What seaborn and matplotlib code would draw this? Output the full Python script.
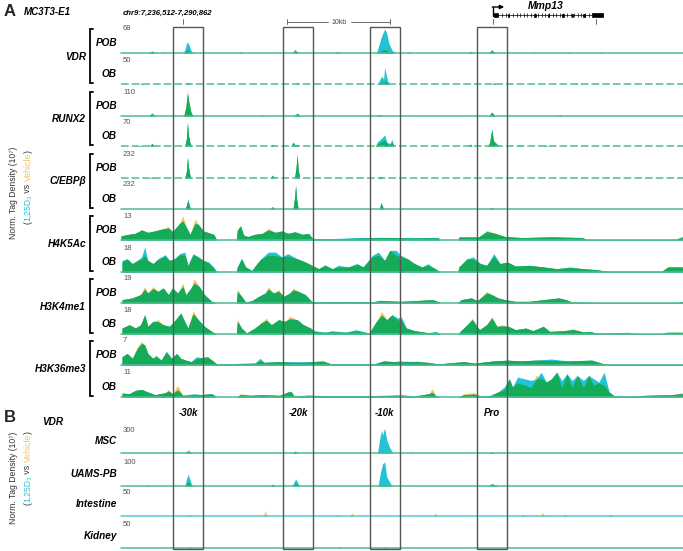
import numpy as np
import matplotlib
matplotlib.use("Agg")
import matplotlib.pyplot as plt
from matplotlib.patches import Rectangle
import seaborn as sns

# ---------------- data: (kb from left edge, 1,25D3, vehicle) ----------------
VDR_POB = [(0.0, 0, 0), (2.7, 0, 0), (3.0, 5, 5), (3.3, 0, 0), (4.0, 0, 0), (4.1, 2.5, 1), (4.2, 0, 0),
           (6.0, 0, 0), (6.2, 8, 4), (6.4, 29, 8), (6.6, 22, 6), (6.8, 6, 2), (7.0, 0, 0),
           (11.4, 0, 0), (11.6, 3, 1), (11.8, 0, 0), (16.6, 0, 0), (16.9, 10, 4), (17.2, 0, 0),
           (20.8, 0, 0), (21.0, 4, 2), (21.2, 0, 0), (24.8, 0, 0), (25.1, 26, 3), (25.3, 44, 6),
           (25.6, 63, 9), (25.8, 52, 7), (26.0, 26, 4), (26.3, 8, 2), (26.6, 0, 0),
           (27.8, 0, 0), (28.0, 3, 1), (28.2, 0, 0), (33.7, 0, 0), (33.9, 4, 4), (34.1, 0, 0),
           (35.7, 0, 0), (36.0, 8, 8), (36.3, 0, 0), (39.8, 0, 0), (40.0, 1, 3), (40.2, 0, 0),
           (43.3, 0, 0), (43.5, 1, 3), (43.7, 0, 0), (46.3, 0, 0), (46.5, 1, 2.5), (46.7, 0, 0),
           (54.5, 0, 0)]
VDR_OB = [(0.0, 0, 0), (1.8, 0, 0), (2.0, 2, 1), (2.2, 0, 0), (6.3, 0, 0), (6.5, 4, 1.5), (6.7, 0, 0),
          (16.9, 0, 0), (17.1, 3, 1), (17.3, 0, 0), (24.9, 0, 0), (25.2, 11, 3), (25.3, 15, 5),
          (25.5, 9.6, 3), (25.6, 32, 6), (25.8, 13, 3), (25.9, 5.8, 2), (26.1, 0, 0),
          (36.0, 0, 0), (36.2, 2, 2), (36.4, 0, 0), (44.0, 0, 0), (44.2, 2, 1), (44.4, 0, 0), (54.5, 0, 0)]
RUNX2_POB = [(0.0, 0, 0), (2.7, 0, 0), (3.0, 12, 13), (3.3, 0, 0), (6.1, 0, 0), (6.3, 38, 40),
             (6.45, 95, 110), (6.6, 55, 58), (6.8, 14, 15), (7.0, 0, 0), (13.5, 0, 0), (13.7, 1, 4),
             (13.9, 0, 0), (16.8, 0, 0), (17.1, 13, 11), (17.4, 0, 0), (24.9, 0, 0), (25.1, 6, 4),
             (25.3, 0, 0), (35.7, 0, 0), (36.0, 17, 16), (36.3, 0, 0), (42.4, 0, 0), (42.6, 3, 4),
             (42.8, 0, 0), (54.5, 0, 0)]
RUNX2_OB = [(0.0, 0, 0), (1.7, 0, 0), (1.9, 2, 2), (2.1, 0, 0), (2.8, 0, 0), (3.0, 7, 7), (3.2, 0, 0),
            (6.2, 0, 0), (6.35, 20, 19), (6.45, 65, 62), (6.55, 30, 28), (6.7, 8, 7), (6.9, 0, 0),
            (14.5, 0, 0), (14.7, 5, 2), (14.9, 0, 0), (16.5, 0, 0), (16.7, 11, 9), (16.9, 3, 3),
            (17.1, 5, 4), (17.3, 0, 0), (24.7, 0, 0), (24.9, 11, 6), (25.3, 21, 12), (25.6, 30, 16),
            (25.8, 11, 6), (26.1, 6, 4), (26.3, 18, 10), (26.5, 0, 0), (33.7, 0, 0), (33.9, 5, 5),
            (34.1, 0, 0), (35.6, 0, 0), (35.8, 10, 10), (36.0, 46, 45), (36.15, 15, 14), (36.4, 8, 7),
            (36.7, 0, 0), (38.5, 0, 0), (38.7, 3, 2), (38.9, 0, 0), (41.0, 0, 0), (41.2, 3, 2),
            (41.4, 0, 0), (54.5, 0, 0)]
CEBPB_POB = [(0.0, 0, 0), (2.8, 0, 0), (3.0, 8, 9), (3.2, 0, 0), (6.2, 0, 0), (6.35, 60, 58),
             (6.45, 187, 180), (6.55, 100, 95), (6.7, 20, 18), (6.85, 0, 0), (14.5, 0, 0),
             (14.7, 27, 25), (14.9, 0, 0), (16.85, 0, 0), (17.0, 95, 100), (17.1, 205, 222),
             (17.2, 75, 80), (17.35, 0, 0), (25.0, 0, 0), (25.2, 18, 15), (25.4, 0, 0), (54.5, 0, 0)]
CEBPB_OB = [(0.0, 0, 0), (6.25, 0, 0), (6.4, 50, 48), (6.5, 89, 85), (6.6, 40, 38), (6.75, 0, 0),
            (14.5, 0, 0), (14.7, 22, 20), (14.9, 0, 0), (16.7, 0, 0), (16.85, 100, 98),
            (16.95, 214, 210), (17.05, 90, 88), (17.2, 0, 0), (25.1, 0, 0), (25.25, 62, 55),
            (25.4, 20, 18), (25.55, 0, 0), (35.8, 0, 0), (36.0, 13, 12), (36.2, 0, 0), (54.5, 0, 0)]
H4K5AC_POB = [(0.0, 2.0, 2.2), (0.7, 2.8, 2.8), (1.4, 3.3, 3.5), (2.0, 5.0, 5.2), (2.6, 3.8, 3.8),
              (3.3, 4.5, 4.8), (4.0, 5.5, 5.5), (4.6, 6.0, 6.7), (5.0, 4.2, 4.2), (5.7, 8.3, 8.5),
              (6.0, 9.5, 12.0), (6.4, 5.8, 5.8), (6.7, 2.8, 3.0), (7.2, 8.3, 10.5), (7.5, 7.8, 7.8),
              (8.0, 4.5, 4.5), (8.4, 3.8, 4.0), (9.0, 2.8, 2.8), (9.3, 0, 0), (11.2, 0, 0),
              (11.3, 5.0, 5.0), (11.6, 7.2, 7.0), (11.9, 2.5, 2.5), (12.3, 1.7, 1.7), (13.0, 2.8, 3.0),
              (13.7, 3.3, 3.3), (14.3, 5.0, 5.8), (15.0, 3.8, 3.8), (15.6, 4.5, 4.5), (16.2, 3.3, 3.5),
              (16.9, 4.2, 4.0), (17.6, 2.8, 2.8), (18.2, 3.3, 3.3), (18.6, 0.8, 0.8), (20.0, 0.6, 0.5),
              (23.4, 1.3, 1.0), (26.3, 1.3, 1.2), (28.0, 1.2, 1.0), (30.8, 1.2, 1.2), (31.0, 0, 0),
              (32.7, 0, 0), (32.8, 1.5, 1.5), (34.7, 1.5, 1.5), (35.0, 2.5, 2.5), (35.5, 4.2, 4.8),
              (36.3, 3.3, 3.5), (37.3, 1.7, 1.7), (39.0, 1.2, 1.2), (41.8, 1.7, 1.5), (44.8, 1.2, 1.2),
              (45.2, 0.3, 0.3), (53.8, 0.3, 0.3), (54.5, 1.5, 1.8)]
H4K5AC_OB = [(0.1, 8, 7), (0.6, 9.2, 9.0), (1.1, 5.8, 5.8), (1.6, 8, 8), (2.0, 10.4, 9), (2.3, 17.3, 11.5),
             (2.6, 8, 8), (3.1, 5.8, 5.8), (3.6, 9.2, 8.8), (4.3, 12, 11), (4.7, 8, 8), (5.2, 9.2, 9.2),
             (5.7, 12.7, 12), (6.2, 13.8, 11.5), (6.5, 4.6, 4.6), (7.0, 12.7, 12), (7.5, 10.4, 10.4),
             (8.0, 8, 8), (8.5, 6.9, 6.5), (9.0, 3.5, 2.5), (9.3, 0, 0), (11.2, 0, 0), (11.3, 3.5, 3.5),
             (11.7, 9.2, 9.5), (12.1, 3.5, 3.5), (12.7, 1.0, 1.0), (13.2, 5.8, 5.8), (13.6, 9.2, 9.0),
             (14.3, 13.8, 11.5), (15.0, 13.8, 11.5), (15.6, 10.4, 10.4), (16.2, 12.7, 11),
             (17.1, 9.2, 9.2), (17.9, 6.9, 6.9), (18.5, 4.6, 5.2), (19.2, 2.3, 2.3), (19.8, 5, 4.5),
             (20.5, 2.3, 2.3), (21.1, 4.6, 3.5), (22.1, 3.5, 3.5), (22.9, 5.8, 5.5), (23.5, 3.5, 3.5),
             (24.4, 11.5, 10.5), (25.0, 13.8, 11.5), (25.6, 8, 8), (26.1, 15, 15), (26.7, 15, 11.5),
             (27.2, 11.5, 10.5), (27.8, 9.2, 9.2), (28.5, 5.8, 5.8), (29.2, 3.5, 3.5), (29.8, 5.8, 4.5),
             (30.5, 2.3, 2.3), (31.0, 0, 0), (32.7, 0, 0), (32.8, 3.5, 3.5), (33.6, 9.2, 9.0),
             (34.2, 10.4, 9), (34.9, 5.8, 5.8), (35.5, 4.6, 4.6), (36.2, 12.7, 11), (36.8, 5.8, 5.8),
             (37.5, 6.9, 6.9), (38.3, 4.1, 4.1), (39.6, 4.6, 4.6), (41.0, 3.5, 3.5), (42.3, 2.3, 2.3),
             (43.6, 3.5, 3.0), (44.9, 2.3, 2.3), (46.2, 1.6, 1.6), (47.2, 0.5, 0.5), (52.5, 0.5, 0.5),
             (53.1, 3.5, 3.5), (54.5, 3.5, 3.5)]
H3K4ME1_POB = [(0.1, 2.4, 2.4), (1.1, 3.7, 3.7), (1.9, 6.1, 6.1), (2.3, 10, 12), (2.6, 7.3, 7.3),
               (3.1, 10.5, 12), (3.6, 8.5, 8.5), (4.1, 11, 11), (4.6, 6.1, 6.1), (5.0, 11, 11),
               (5.5, 7.3, 7.3), (6.0, 12, 14.6), (6.3, 6.1, 6.1), (6.8, 11, 11), (7.1, 14.6, 17.8),
               (7.6, 12, 12), (8.1, 6.1, 6.1), (8.8, 1.2, 1.2), (9.1, 0.5, 0.5), (9.3, 0, 0),
               (11.2, 0, 0), (11.3, 8.5, 10), (11.7, 4.9, 4.9), (12.1, 0.7, 0.7), (12.7, 1.7, 1.7),
               (13.4, 4.9, 4.9), (14.0, 7.3, 7.3), (14.3, 10, 12), (14.8, 7.3, 7.3), (15.3, 8.5, 9.7),
               (15.8, 4.9, 4.9), (16.4, 7.3, 7.3), (16.7, 9.5, 11), (17.2, 8.5, 8.5), (17.9, 6.1, 6.1),
               (18.5, 1.2, 1.2), (19.5, 0.7, 0.7), (22.0, 1.0, 1.2), (24.3, 0.7, 0.7), (25.2, 1.9, 1.9),
               (27.1, 1.2, 1.2), (30.3, 2.4, 2.4), (30.8, 1.0, 1.0), (31.0, 0, 0), (32.7, 0, 0),
               (33.0, 2.4, 2.4), (34.0, 3.7, 3.7), (34.6, 1.7, 1.7), (35.5, 7.3, 8.5), (36.0, 6.1, 6.1),
               (36.6, 3.7, 3.7), (37.3, 2.4, 2.4), (38.3, 1.2, 1.2), (39.6, 1.2, 1.2), (42.5, 3.7, 3.7),
               (43.2, 2.4, 2.4), (43.8, 0.7, 0.7), (46.8, 0.3, 0.3), (54.0, 0.3, 0.3), (54.5, 1.0, 1.0)]
H3K4ME1_OB = [(0.1, 4.1, 4.1), (0.8, 6.4, 6.4), (1.4, 4.1, 4.1), (1.9, 6.4, 6.4), (2.3, 13.3, 13.3),
              (2.6, 5.3, 5.3), (3.1, 8.7, 8.7), (3.6, 8.5, 9.9), (4.1, 6.4, 6.4), (4.7, 5.3, 5.3),
              (5.3, 9.9, 9.9), (5.8, 14.5, 14.5), (6.1, 9.9, 9.9), (6.5, 4.1, 4.1), (7.0, 14, 16.1),
              (7.5, 9.9, 9.9), (8.1, 5.3, 5.3), (8.8, 1.8, 1.8), (9.1, 0.5, 0.5), (9.3, 0, 0),
              (11.2, 0, 0), (11.3, 8.7, 10.4), (11.7, 4.1, 4.1), (12.2, 0.7, 0.7), (13.0, 4.1, 4.1),
              (13.6, 7.6, 7.6), (14.1, 9.5, 11), (14.6, 6.4, 6.4), (15.3, 9.9, 9.9), (15.9, 8.7, 8.7),
              (16.4, 10.5, 12.2), (17.1, 9.9, 9.9), (17.7, 6.4, 6.4), (18.4, 4.1, 4.1), (18.8, 2.3, 1.5),
              (19.8, 1.2, 1.2), (20.5, 2.3, 1.5), (21.8, 1.2, 1.2), (22.8, 3.0, 2.0), (24.1, 0.7, 0.7),
              (24.7, 7.6, 7.6), (25.3, 13, 15.6), (25.8, 9.9, 9.9), (26.3, 13.3, 13.3), (26.9, 11, 9.5),
              (27.2, 12, 9.9), (27.7, 4.1, 4.1), (28.5, 2.3, 2.3), (29.8, 0.9, 0.9), (30.6, 1.8, 1.2),
              (31.0, 0, 0), (32.7, 0, 0), (33.0, 2.3, 2.3), (33.6, 6.4, 6.4), (34.1, 9.9, 11),
              (34.8, 3.0, 3.0), (35.5, 6.4, 6.4), (36.0, 11, 12), (36.5, 5.3, 5.3), (37.0, 5.5, 6.4),
              (37.6, 5.3, 5.3), (38.3, 3.0, 3.0), (39.3, 4.1, 4.1), (40.0, 2.3, 2.3), (41.0, 5.3, 5.3),
              (41.6, 1.8, 1.8), (43.0, 2.3, 2.3), (43.9, 3.0, 3.7), (44.9, 1.4, 1.4), (45.5, 1.8, 1.8),
              (46.2, 0.5, 0.5), (49.2, 1.2, 0.5), (50.0, 0.3, 0.3), (52.5, 0.3, 0.3), (53.0, 1.2, 1.2),
              (54.5, 1.2, 1.2)]
H3K36ME3_POB = [(0.1, 2.2, 2.2), (0.6, 3.1, 3.1), (1.1, 1.8, 1.8), (1.6, 4.5, 5.0), (2.0, 5.8, 6.3),
                (2.3, 5.4, 5.4), (2.6, 3.1, 3.1), (3.1, 1.8, 1.8), (3.4, 2.4, 2.7), (3.9, 1.3, 1.3),
                (4.4, 3.6, 3.6), (4.9, 1.8, 1.8), (5.4, 3.1, 3.1), (5.8, 1.8, 1.8), (6.3, 1.3, 1.3),
                (6.8, 0.9, 0.9), (7.3, 2.2, 1.6), (7.8, 2.0, 2.0), (8.4, 2.2, 2.2), (9.0, 0.9, 1.1),
                (9.3, 0.3, 0.3), (11.1, 0.4, 0.4), (13.0, 0.5, 0.5), (13.5, 1.8, 1.2), (13.9, 0.7, 0.7),
                (15.3, 0.9, 0.9), (17.5, 0.9, 0.6), (19.6, 1.0, 1.3), (20.4, 0.3, 0.3), (24.6, 0.3, 0.3),
                (25.5, 1.1, 1.1), (26.5, 0.9, 0.9), (26.9, 1.1, 0.8), (28.8, 0.9, 1.1), (29.8, 0.7, 0.7),
                (30.8, 0.3, 0.3), (33.3, 0.9, 0.9), (34.3, 0.5, 0.5), (36.2, 1.1, 1.1), (37.5, 1.3, 1.3),
                (38.8, 1.1, 1.1), (40.2, 1.3, 1.3), (41.8, 1.6, 1.2), (43.4, 1.1, 1.1), (45.7, 1.3, 1.3),
                (47.0, 0.2, 0.2), (54.5, 0.2, 0.2)]
H3K36ME3_OB = [(0.1, 1.5, 2.1), (0.8, 1.4, 1.4), (1.4, 2.8, 2.8), (2.0, 3.2, 3.2), (2.6, 2.1, 2.1),
               (3.3, 1.0, 1.0), (4.3, 1.8, 1.8), (4.6, 2.5, 3.2), (5.0, 1.4, 1.4), (5.5, 3.0, 4.9),
               (6.0, 0.7, 0.7), (7.1, 1.4, 1.0), (7.8, 1.0, 1.0), (8.8, 1.4, 1.4), (9.3, 0, 0),
               (11.2, 0, 0), (11.6, 1.0, 1.4), (12.6, 0.7, 0.7), (13.6, 1.0, 1.0), (15.4, 0.7, 0.7),
               (16.2, 2.1, 2.1), (16.5, 2.4, 2.4), (16.8, 0.4, 0.4), (18.2, 0.7, 1.0), (20.0, 0.5, 0.5),
               (24.0, 0.5, 0.5), (27.2, 1.0, 0.7), (28.5, 0.4, 0.4), (29.9, 1.4, 1.4), (30.2, 2.0, 3.5),
               (30.6, 0.4, 0.4), (31.0, 0, 0), (32.7, 0, 0), (33.3, 1.0, 1.4), (34.3, 1.2, 1.8),
               (35.0, 0.3, 0.3), (35.9, 0.7, 0.7), (36.6, 2.1, 2.1), (37.2, 4.2, 3.0), (37.7, 7.7, 7.7),
               (38.0, 4.2, 4.2), (38.5, 8.4, 6.0), (39.2, 7.7, 5.0), (39.8, 7.0, 4.0), (40.3, 7.5, 9.1),
               (40.8, 10.5, 8.0), (41.3, 6.3, 6.3), (41.8, 7.7, 7.7), (42.3, 10.5, 10.5), (42.8, 7.0, 4.0),
               (43.3, 9.8, 9.8), (43.8, 7.0, 4.0), (44.3, 9.1, 9.1), (44.9, 7.0, 4.0), (45.4, 9.1, 9.1),
               (45.9, 7.7, 5.0), (46.4, 6.3, 6.0), (46.9, 10.5, 5.0), (47.4, 2.1, 2.1), (47.9, 0.4, 0.4),
               (49.6, 0.3, 0.5), (51.5, 1.0, 0.6), (53.5, 1.0, 1.0), (54.5, 1.4, 1.8)]
MSC = [(0.0, 0, 0), (6.2, 0, 0), (6.4, 20, 10), (6.55, 36, 15), (6.7, 15, 8), (6.9, 0, 0), (16.6, 0, 0),
       (16.9, 25, 15), (17.2, 0, 0), (24.9, 0, 0), (25.1, 150, 3), (25.3, 265, 4), (25.4, 208, 4),
       (25.6, 288, 5), (25.8, 150, 3), (26.1, 58, 2), (26.4, 0, 0), (28.1, 0, 0), (28.3, 10, 5),
       (28.5, 0, 0), (35.8, 0, 0), (36.0, 12, 12), (36.2, 0, 0), (54.5, 0, 0)]
UAMS_PB = [(0.0, 0, 0), (2.4, 0, 0), (2.6, 4, 3), (2.8, 0, 0), (6.2, 0, 0), (6.35, 25, 10), (6.5, 45, 15),
           (6.65, 30, 12), (6.85, 5, 3), (7.0, 0, 0), (14.5, 0, 0), (14.7, 8, 5), (14.9, 0, 0),
           (16.6, 0, 0), (16.8, 15, 8), (16.95, 28, 10), (17.1, 18, 8), (17.3, 0, 0), (24.95, 0, 0),
           (25.2, 54, 5), (25.4, 86, 6), (25.6, 92, 6), (25.8, 35, 4), (26.2, 7, 2), (26.4, 0, 0),
           (35.7, 0, 0), (36.0, 9, 9), (36.3, 4, 4), (36.6, 0, 0), (54.5, 0, 0)]
INTESTINE = [(0.0, 0, 0), (6.5, 0, 0), (6.7, 0.5, 4), (6.9, 0, 0), (13.8, 0, 0), (14.0, 0.5, 10),
             (14.2, 0, 0), (20.8, 0, 0), (21.0, 0.5, 3), (21.2, 0, 0), (22.2, 0, 0), (22.4, 0.5, 6),
             (22.6, 0, 0), (30.3, 0, 0), (30.5, 0.5, 6), (30.7, 0, 0), (38.8, 0, 0), (39.0, 0.5, 4),
             (39.2, 0, 0), (40.7, 0, 0), (40.9, 0.5, 7), (41.1, 0, 0), (42.9, 0, 0), (43.1, 0.5, 4),
             (43.3, 0, 0), (47.3, 0, 0), (47.5, 0.5, 4), (47.7, 0, 0), (54.5, 0, 0)]
KIDNEY = [(0.0, 0, 0), (6.5, 0, 0), (6.7, 1, 2), (6.9, 0, 0), (21.0, 0, 0), (21.2, 0.5, 2), (21.4, 0, 0),
          (25.5, 0, 0), (25.7, 2, 0.5), (25.9, 0, 0), (54.5, 0, 0)]

A_GROUPS = ["VDR", "RUNX2", "C/EBPβ", "H4K5Ac", "H3K4me1", "H3K36me3"]
A_CELLS = ["POB", "OB"]
A_DATA = [VDR_POB, VDR_OB, RUNX2_POB, RUNX2_OB, CEBPB_POB, CEBPB_OB,
          H4K5AC_POB, H4K5AC_OB, H3K4ME1_POB, H3K4ME1_OB, H3K36ME3_POB, H3K36ME3_OB]
A_SCALES = [68, 50, 110, 70, 232, 232, 13, 18, 19, 18, 7, 11]
B_CELLS = ["MSC", "UAMS-PB", "Intestine", "Kidney"]
B_DATA = [MSC, UAMS_PB, INTESTINE, KIDNEY]
B_SCALES = [300, 100, 50, 50]
BOX_KB = [6.5, 17.2, 25.6, 36.0]
BOX_LABELS = ["-30k", "-20k", "-10k", "Pro"]
RULER_KB = [6.0, 16.1, 26.1, 36.1, 46.1]
MMP13_TSS = 36.1
MMP13_EXONS = [(36.2, 36.6), (37.55, 37.7), (40.1, 40.25), (41.45, 41.6), (42.85, 43.0),
               (43.75, 43.9), (44.85, 45.0), (45.7, 46.8)]

# ---------------- style / layout ----------------
sns.set_theme(style="white")
plt.rcParams["font.family"] = ["Liberation Sans", "DejaVu Sans"]

D3_C, VEH_C, BOTH_C, BASE_C = "#22c3d6", "#f7c35c", "#15ab58", "#4dbd8e"
W, H = 683, 551
X0, X1 = 121, 683
XMAX = (X1 - X0) / 10.3
TRACK_H = 26
A_BASE = [53, 84, 116, 146, 178, 209, 240, 272, 303, 334, 365, 397]
B_BASE = [453, 486, 516, 548]
A_DASHED = [False, True, False, True, True, False, False, False, False, False, False, False]
B_BASE_C = [BASE_C, BASE_C, "#56cbcf", BASE_C]

fig = plt.figure(figsize=(W / 100, H / 100), dpi=100)
fig.patch.set_facecolor("white")


def draw_track(base, data, ymax, dashed=False, base_c=BASE_C):
    ax = fig.add_axes([X0 / W, 1 - base / H, (X1 - X0) / W, TRACK_H / H])
    x, d3, veh = np.array(data, dtype=float).T
    ax.fill_between(x, 0, veh, color=VEH_C, lw=0)
    ax.fill_between(x, 0, d3, color=D3_C, lw=0)
    ax.fill_between(x, 0, np.minimum(d3, veh), color=BOTH_C, lw=0)
    ax.axhline(0, color=base_c, lw=1.1, ls=(0, (5, 2)) if dashed else "-", clip_on=False)
    ax.set_xlim(0, XMAX)
    ax.set_ylim(0, ymax)
    ax.axis("off")
    return ax


for base, data, ymax, dashed in zip(A_BASE, A_DATA, A_SCALES, A_DASHED):
    draw_track(base, data, ymax, dashed)
for base, data, ymax, bc in zip(B_BASE, B_DATA, B_SCALES, B_BASE_C):
    draw_track(base, data, ymax, False, bc)

# overlay in pixel coordinates for labels
ov = fig.add_axes([0, 0, 1, 1])
ov.set_xlim(0, W)
ov.set_ylim(H, 0)
ov.axis("off")

# overlay in genomic coordinates (kb) for boxes, ruler, gene
gx = fig.add_axes([X0 / W, 0, (X1 - X0) / W, 1])
gx.set_xlim(0, XMAX)
gx.set_ylim(H, 0)
gx.axis("off")

bold_it = dict(fontweight="bold", fontstyle="italic", color="black")

ov.text(4, 12, "A", fontsize=12, fontweight="bold", va="center", ha="left")
ov.text(24, 12, "MC3T3-E1", fontsize=7, va="center", ha="left", **bold_it)
ov.text(4, 418, "B", fontsize=12, fontweight="bold", va="center", ha="left")
ov.text(42, 422, "VDR", fontsize=7.2, va="center", ha="left", **bold_it)

# panel A labels and brackets
for i, grp in enumerate(A_GROUPS):
    b_pob, b_ob = A_BASE[2 * i], A_BASE[2 * i + 1]
    ov.text(86, (b_pob + b_ob) / 2 - 12, grp, fontsize=7.2, ha="right", va="center", **bold_it)
    top, bot = b_pob - 24, b_ob - 1
    ov.plot([93, 90, 90, 93], [top, top, bot, bot], color="black", lw=1.3, solid_joinstyle="miter")
    for base, cell in zip((b_pob, b_ob), A_CELLS):
        ov.text(117, base - 10, cell, fontsize=7.2, ha="right", va="center", **bold_it)
for base, s in zip(A_BASE, A_SCALES):
    ov.text(123, base - 24, str(s), fontsize=5.5, color="#555555", ha="left", va="center")

# panel B labels
for base, cell, s in zip(B_BASE, B_CELLS, B_SCALES):
    ov.text(117, base - 12, cell, fontsize=7.2, ha="right", va="center", **bold_it)
    ov.text(123, base - 23, str(s), fontsize=5.5, color="#555555", ha="left", va="center")

# boxes around regulatory regions
for c, lab in zip(BOX_KB, BOX_LABELS):
    gx.add_patch(Rectangle((c - 1.45, 27), 2.9, 522, fill=False, ec="#555555", lw=1.0))
    gx.text(c, 413, lab, fontsize=7, ha="center", va="center", **bold_it)

# ruler
gx.text(0.2, 13, "chr9:7,236,512-7,290,862", fontsize=5.6, ha="left", va="center", **bold_it)
for t in RULER_KB:
    gx.plot([t, t], [19, 24], color="#555555", lw=0.6)
gx.plot([RULER_KB[1], 20.1], [22, 22], color="#555555", lw=0.6)
gx.plot([22.3, RULER_KB[2]], [22, 22], color="#555555", lw=0.6)
gx.text(21.2, 22, "10kb", fontsize=5, ha="center", va="center", color="#444444")

# Mmp13 gene model
gx.plot([MMP13_TSS, MMP13_TSS], [16, 7], color="black", lw=1)
gx.annotate("", xy=(MMP13_TSS + 1.1, 7), xytext=(MMP13_TSS - 0.05, 7),
            arrowprops=dict(arrowstyle="-|>", color="black", lw=1, mutation_scale=6,
                            shrinkA=0, shrinkB=0))
gx.plot([MMP13_TSS, MMP13_EXONS[-1][1]], [15, 15], color="black", lw=0.5)
intron_marks = np.arange(37.0, 45.6, 0.35)
gx.plot(intron_marks, np.full(len(intron_marks), 15), ls="none", marker="|", ms=2.2, mew=0.5,
        color="black")
for s, e in MMP13_EXONS:
    hh = 3.6 if (e - s) > 0.3 else 3.0
    gx.add_patch(Rectangle((s, 15 - hh / 2), e - s, hh, color="black", lw=0.5))
gx.text(41.2, 6, "Mmp13", fontsize=7.5, ha="center", va="center", **bold_it)


# rotated y labels with coloured parts
def ylab(x1, y1, x2, y2):
    ov.text(x1, y1, "Norm. Tag Density (10\u2077)", rotation=90, fontsize=6.2, color="#333333",
            ha="center", va="center")
    parts = [("(", "#333333"), ("1,25D\u2083", D3_C), (" vs ", "#333333"), ("Vehicle", VEH_C),
             (")", "#333333")]
    texts = [ov.text(x2, 0, s, rotation=90, fontsize=6.2, color=c, ha="center", va="bottom")
             for s, c in parts]
    fig.canvas.draw()
    r = fig.canvas.get_renderer()
    lens = np.array([t.get_window_extent(r).height for t in texts])
    start = y2 + lens.sum() / 2  # bottom end in pixel y (axis inverted)
    for t, L in zip(texts, lens):
        t.set_position((x2, start))
        start -= L


ylab(14, 193, 28, 187)
ylab(14, 478, 28, 468)

fig.savefig("out.png", dpi=100, facecolor="white")
